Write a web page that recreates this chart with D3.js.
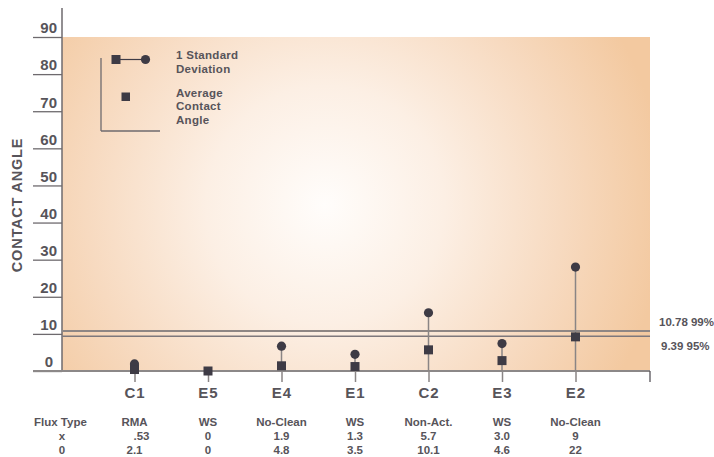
<!DOCTYPE html>
<html><head><meta charset="utf-8">
<script src="https://cdn.jsdelivr.net/npm/d3@7"></script>
<style>
html,body{margin:0;padding:0;background:#fff;}
svg{display:block;}
text{font-family:"Liberation Sans",Arial,Helvetica,sans-serif;font-weight:bold;fill:#57545a;}
</style></head>
<body>
<svg id="chart" width="714" height="457"></svg>
<script>
const categories = ["C1","E5","E4","E1","C2","E3","E2"];
const fluxType = ["RMA","WS","No-Clean","WS","Non-Act.","WS","No-Clean"];
const meanText = [".53","0","1.9","1.3","5.7","3.0","9"];
const sdText = ["2.1","0","4.8","3.5","10.1","4.6","22"];
const avgValues = [0.4, 0, 1.4, 1.2, 5.7, 2.8, 9.2];
const sdTopValues = [1.9, null, 6.7, 4.5, 15.7, 7.4, 28];
const yTicks = [0,10,20,30,40,50,60,70,80,90];
const refLines = [{v:10.78, label:"10.78 99%"},{v:9.39, label:"9.39 95%"}];
const rowLabels = ["Flux Type","x","0"];

const svg = d3.select("#chart");
const pLeft = 62, pRight = 650, pTop = 37, pBottom = 371;
const y = d3.scaleLinear().domain([0,90]).range([pBottom, pTop]);
const x = d3.scalePoint().domain(categories).range([pLeft-1, pRight-1]).padding(1);

// background gradient
const defs = svg.append("defs");
const grad = defs.append("radialGradient").attr("id","bg")
  .attr("gradientUnits","userSpaceOnUse")
  .attr("cx",325).attr("cy",205).attr("r",340);
grad.append("stop").attr("offset","0%").attr("stop-color","#fffdfb");
grad.append("stop").attr("offset","35%").attr("stop-color","#fcefe4");
grad.append("stop").attr("offset","70%").attr("stop-color","#f7dac0");
grad.append("stop").attr("offset","100%").attr("stop-color","#f3c9a0");
svg.append("rect").attr("x",pLeft).attr("y",y(90)).attr("width",pRight-pLeft).attr("height",y(0)-y(90))
  .attr("fill","url(#bg)");

// y axis
const yAxis = d3.axisLeft(y).tickValues(yTicks).tickSize(29).tickFormat(d3.format("d"));
const gy = svg.append("g").attr("transform",`translate(${pLeft},0)`).call(yAxis);
gy.select(".domain").remove();
gy.selectAll(".tick line").attr("stroke","#6e6a6e").attr("stroke-width",1.3);
gy.selectAll(".tick text").attr("x",d=>d===0?-9:-5).attr("dy","-0.28em")
  .style("font-size","15px").style("fill","#57545a");
svg.append("line").attr("x1",pLeft).attr("x2",pLeft).attr("y1",8).attr("y2",pBottom)
  .attr("stroke","#6e6a6e").attr("stroke-width",1.5);

// y title
svg.append("text").attr("transform","translate(22,205) rotate(-90)")
  .attr("text-anchor","middle").style("font-size","14.5px").style("letter-spacing","0.8px")
  .text("CONTACT ANGLE");

// reference lines
svg.selectAll(".ref").data(refLines).enter().append("line")
  .attr("x1",pLeft).attr("x2",pRight).attr("y1",d=>y(d.v)).attr("y2",d=>y(d.v))
  .attr("stroke",(d,i)=>i===0?"#8e8684":"#7e787c").attr("stroke-width",(d,i)=>i===0?2:1.5);
svg.selectAll(".reflab").data(refLines).enter().append("text")
  .attr("x",(d,i)=>i===0?659:661).attr("y",(d,i)=>i===0?326:350)
  .style("font-size","11.5px").text(d=>d.label);

// bottom axis
const xAxis = d3.axisBottom(x).tickSize(11).tickSizeOuter(0);
const gx = svg.append("g").attr("transform",`translate(0,${pBottom})`).call(xAxis);
gx.select(".domain").remove();
gx.selectAll(".tick line").attr("stroke","#8a8585").attr("stroke-width",1.5);
gx.selectAll(".tick text").attr("y",26.5).attr("dy",0)
  .style("font-size","15px").style("letter-spacing","1px").style("fill","#57545a");
svg.append("line").attr("x1",33).attr("x2",pRight).attr("y1",pBottom).attr("y2",pBottom)
  .attr("stroke","#8c8888").attr("stroke-width",2);
svg.append("line").attr("x1",pRight).attr("x2",pRight).attr("y1",pBottom).attr("y2",382)
  .attr("stroke","#57545a").attr("stroke-width",1.3);

// stems
const data = categories.map((c,i)=>({c, avg:avgValues[i], hi:sdTopValues[i]}));
svg.selectAll(".stem").data(data.filter(d=>d.hi!==null)).enter().append("line")
  .attr("x1",d=>x(d.c)).attr("x2",d=>x(d.c)).attr("y1",d=>y(d.hi)).attr("y2",pBottom)
  .attr("stroke","#8a8585").attr("stroke-width",1.5);
svg.selectAll(".sd").data(data.filter(d=>d.hi!==null)).enter().append("circle")
  .attr("cx",d=>x(d.c)).attr("cy",d=>y(d.hi)).attr("r",4.6).attr("fill","#3e3b45");
svg.selectAll(".avg").data(data).enter().append("rect")
  .attr("x",d=>x(d.c)-4.5).attr("y",d=>y(d.avg)-4.5).attr("width",9).attr("height",9)
  .attr("fill","#3e3b45");

// table
const rowY = [426, 440, 453.5];
const tbl = svg.append("g").style("font-size","11.5px");
tbl.append("text").attr("x",34).attr("y",rowY[0]).text(rowLabels[0]);
tbl.append("text").attr("x",62).attr("y",rowY[1]).attr("text-anchor","middle").text(rowLabels[1]);
tbl.append("text").attr("x",62).attr("y",rowY[2]).attr("text-anchor","middle").text(rowLabels[2]);
[fluxType, meanText, sdText].forEach((arr,r)=>{
  tbl.selectAll(".r"+r).data(arr).enter().append("text")
    .attr("x",(d,i)=>x(categories[i])).attr("dx",d=>d.startsWith(".")?7:0)
    .attr("y",rowY[r]).attr("text-anchor","middle").text(d=>d);
});

// legend
const lg = svg.append("g");
lg.append("line").attr("x1",101).attr("x2",101).attr("y1",58).attr("y2",131).attr("stroke","#6e6a6e").attr("stroke-width",1.3);
lg.append("line").attr("x1",101).attr("x2",160).attr("y1",131).attr("y2",131).attr("stroke","#6e6a6e").attr("stroke-width",1.3);
lg.append("line").attr("x1",116).attr("x2",145).attr("y1",59.5).attr("y2",59.5).attr("stroke","#3e3b45").attr("stroke-width",1.2);
lg.append("rect").attr("x",111.5).attr("y",55).attr("width",9).attr("height",9).attr("fill","#3e3b45");
lg.append("circle").attr("cx",145.5).attr("cy",59.5).attr("r",4.6).attr("fill","#3e3b45");
lg.append("rect").attr("x",121.5).attr("y",92.5).attr("width",8.5).attr("height",8.5).attr("fill","#3e3b45");
const legTexts = [["1 Standard",59],["Deviation",72.7],["Average",96.7],["Contact",110.3],["Angle",124]];
lg.selectAll(".lt").data(legTexts).enter().append("text")
  .attr("x",176).attr("y",d=>d[1]).style("font-size","11.5px").style("letter-spacing","0.3px").text(d=>d[0]);
</script>
</body></html>
